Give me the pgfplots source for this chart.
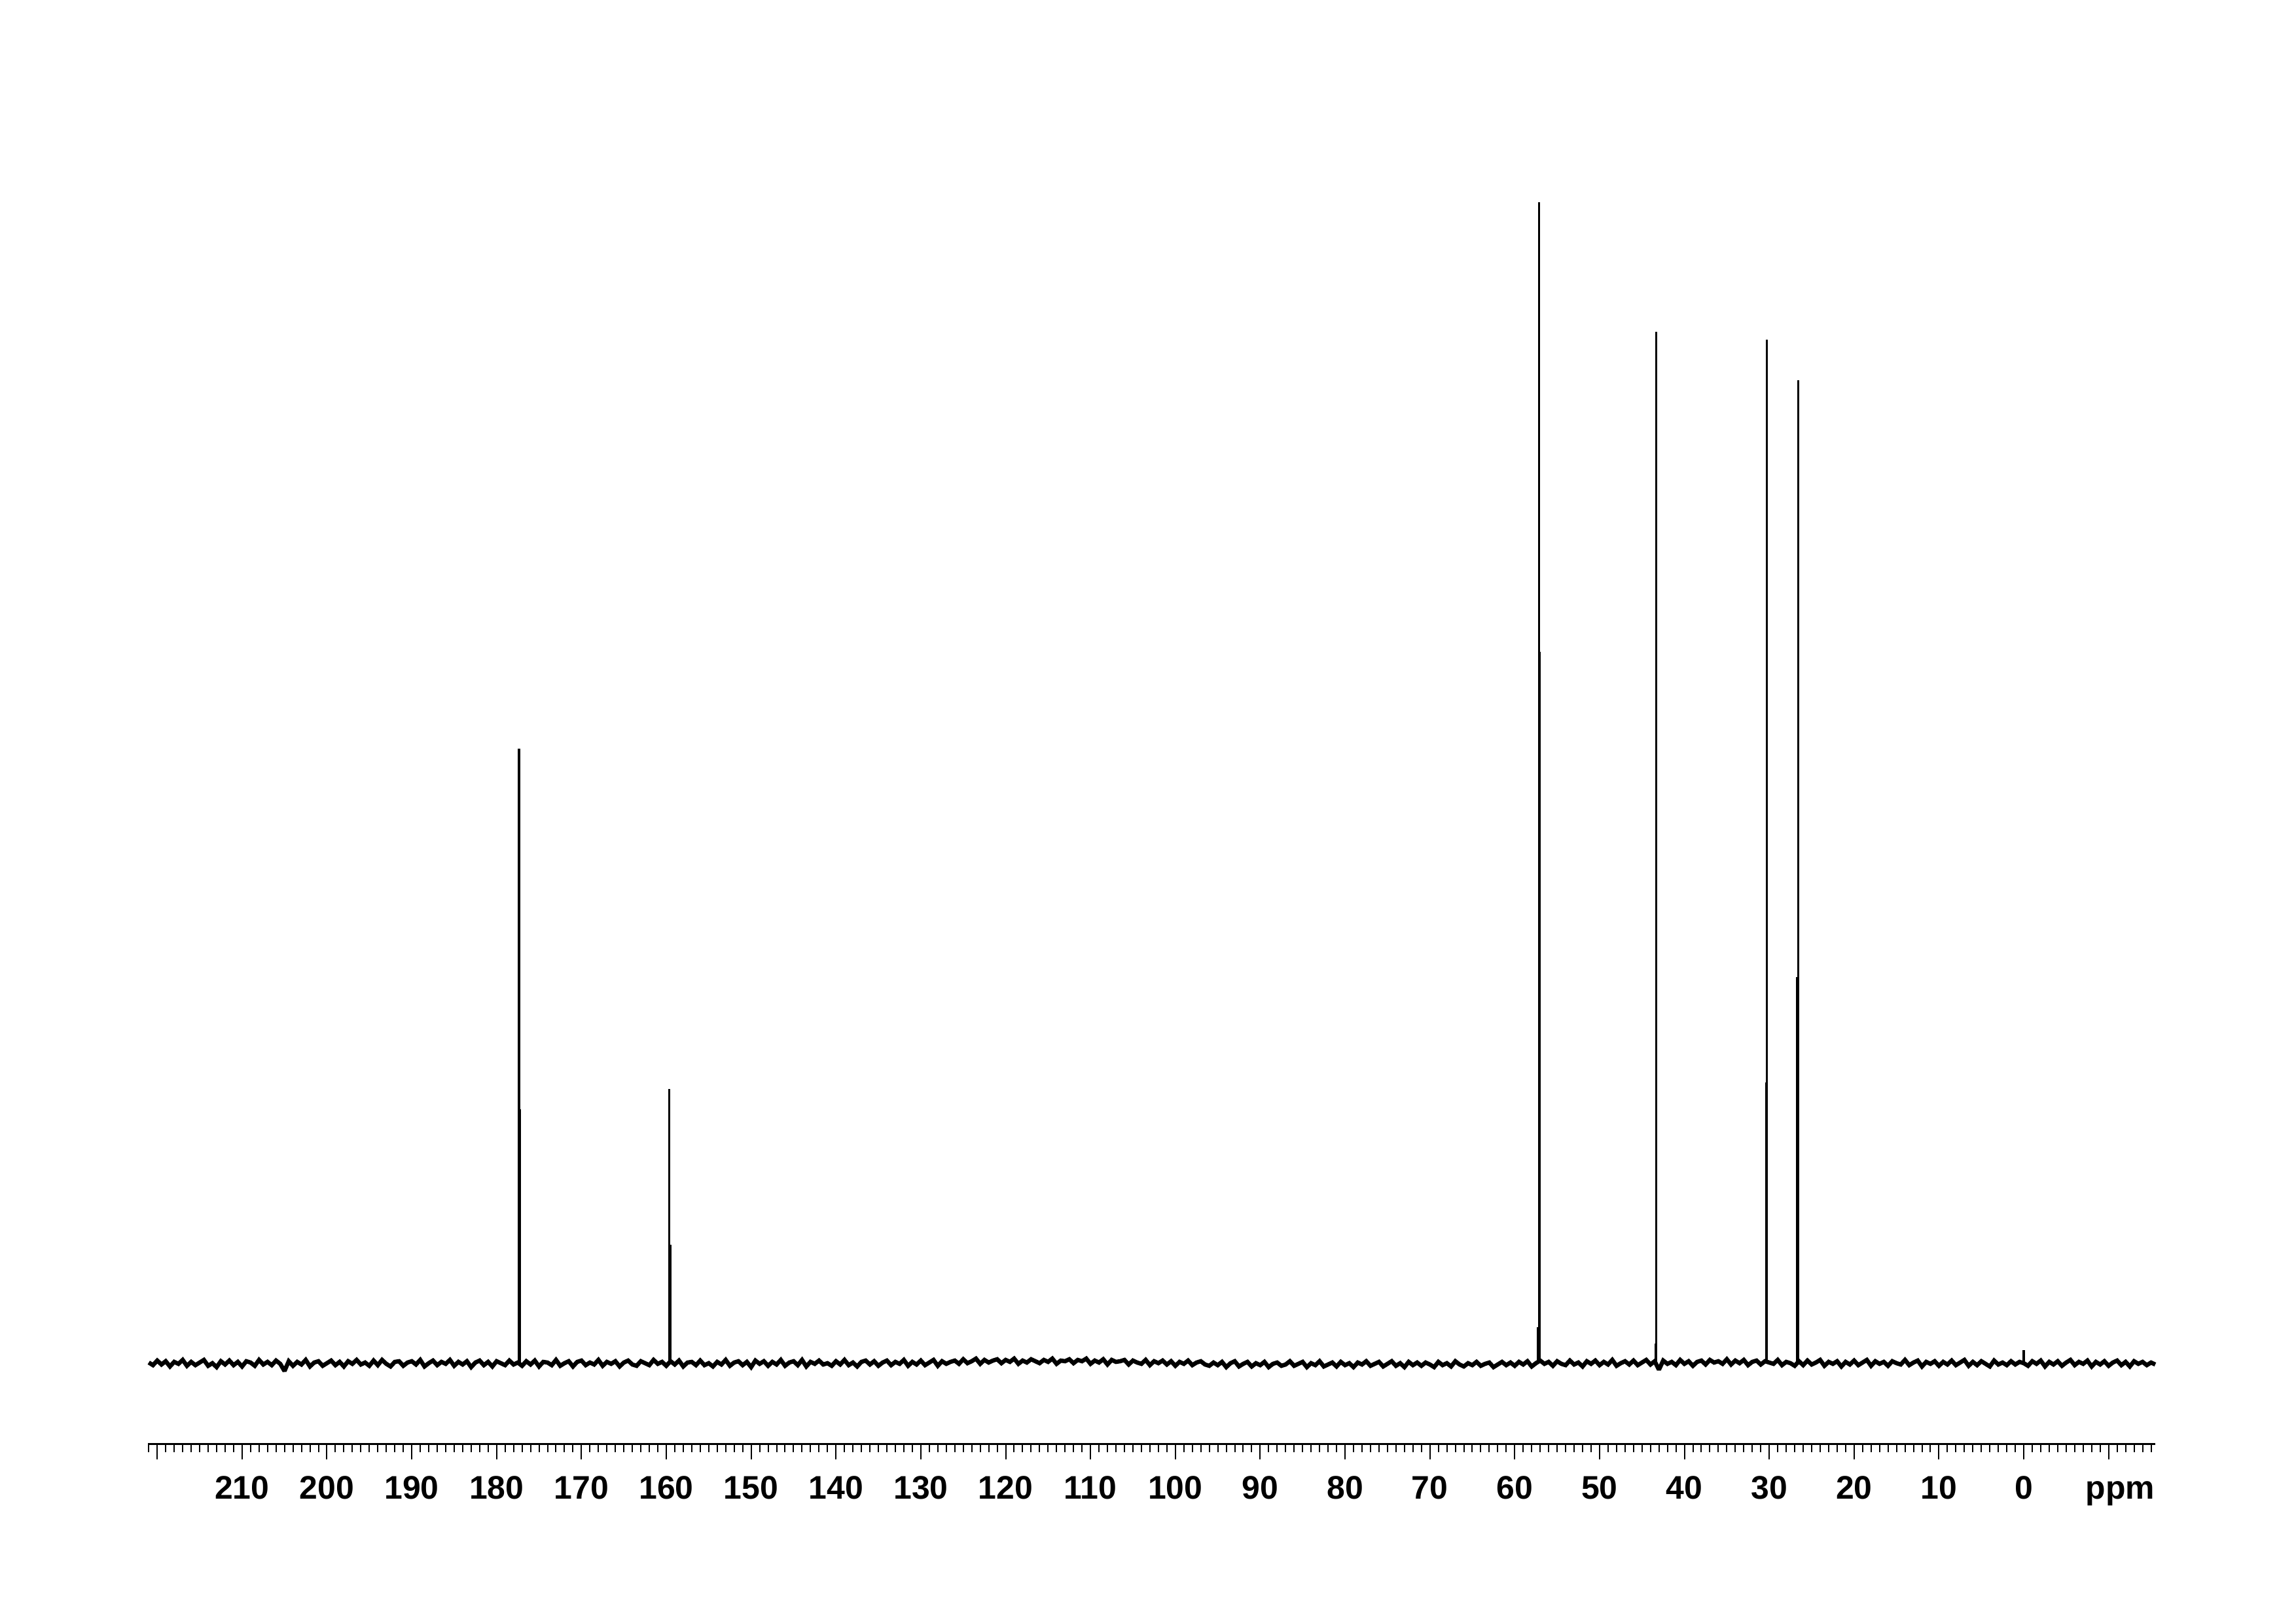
\documentclass[border=0pt]{standalone}
\usepackage{fontspec}
\setmainfont{Liberation Sans}
\usepackage{pgfplots}
\pgfplotsset{compat=1.18}
\begin{document}
\begin{tikzpicture}
\useasboundingbox (0,0) rectangle (350.8mm,247.9mm);
\begin{axis}[
  at={(22.6mm,27.3mm)}, anchor=south west,
  scale only axis, width=306.7mm, height=192.3mm,
  xmin=-15.5, xmax=221.1, ymin=-123, ymax=1800,
  x dir=reverse,
  axis x line=bottom, axis y line=none,
  axis line style={-, line width=0.3mm, black},
  ytick=\empty,
  xtick={-10,0,10,20,30,40,50,60,70,80,90,100,110,120,130,140,150,160,170,180,190,200,210,220},
  xticklabels={,0,10,20,30,40,50,60,70,80,90,100,110,120,130,140,150,160,170,180,190,200,210,},
  minor xtick={-15,-14,...,221},
  tick align=outside,
  major tick length=2.4mm, minor tick length=1.25mm,
  major tick style={line width=0.2mm, black},
  minor tick style={line width=0.2mm, black},
  /pgf/number format/assume math mode=true,
  xticklabel style={font=\bfseries\fontsize{14.2}{14.2}\selectfont, anchor=base, inner sep=0pt, yshift=-6.0mm},
  xlabel={ppm},
  xlabel style={at={(rel axis cs:1,0)}, anchor=base east, inner sep=0pt, yshift=-8.4mm, font=\bfseries\fontsize{14.2}{14.2}\selectfont},
  clip=false,
]
% baseline noise (height in 0.1 mm above baseline)
\addplot[black, line width=0.65mm, line join=miter, miter limit=2] coordinates {
(221,1)(220.5,-3)(220,4)(219.5,-2)(219,3)(218.5,-5)(218,2)(217.5,-1)(217,5)(216.5,-4)
(216,2)(215.5,-3)(215,1)(214.5,5)(214,-4)(213.5,0)(213,-6)(212.5,3)(212,-2)(211.5,4)
(211,-3)(210.5,2)(210,-5)(209.5,3)(209,1)(208.5,-4)(208,5)(207.5,-2)(207,2)(206.5,-3)
(206,4)(205.5,-1)(205,-12)(204.5,3)(204,-4)(203.5,2)(203,-2)(202.5,5)(202,-5)(201.5,1)
(201,3)(200.5,-4)(200,0)(199.5,4)(199,-3)(198.5,2)(198,-5)(197.5,3)(197,-1)(196.5,5)
(196,-2)(195.5,1)(195,-4)(194.5,4)(194,-3)(193.5,5)(193,-1)(192.5,-5)(192,2)(191.5,3)
(191,-4)(190.5,1)(190,3)(189.5,-2)(189,5)(188.5,-5)(188,0)(187.5,4)(187,-3)(186.5,2)
(186,-1)(185.5,5)(185,-4)(184.5,2)(184,-2)(183.5,3)(183,-6)(182.5,1)(182,4)(181.5,-3)
(181,2)(180.5,-5)(180,3)(179.5,0)(179,-3)(178.5,4)(178,-2)(177.5,1)(177,-4)(176.5,3)
(176,-2)(175.5,4)(175,-5)(174.5,2)(174,1)(173.5,-3)(173,5)(172.5,-4)(172,0)(171.5,3)
(171,-5)(170.5,2)(170,4)(169.5,-3)(169,1)(168.5,-2)(168,5)(167.5,-4)(167,2)(166.5,-1)
(166,3)(165.5,-5)(165,1)(164.5,4)(164,-2)(163.5,-4)(163,3)(162.5,0)(162,-3)(161.5,5)
(161,-1)(160.5,2)(160,-4)(159.5,3)(159,-2)(158.5,4)(158,-5)(157.5,1)(157,2)(156.5,-3)
(156,4)(155.5,-3)(155,0)(154.5,-5)(154,2)(153.5,-2)(153,5)(152.5,-4)(152,1)(151.5,3)
(151,-3)(150.5,2)(150,-6)(149.5,4)(149,-1)(148.5,3)(148,-4)(147.5,2)(147,-2)(146.5,5)
(146,-4)(145.5,1)(145,3)(144.5,-3)(144,5)(143.5,-5)(143,2)(142.5,-1)(142,4)(141.5,-2)
(141,0)(140.5,-4)(140,3)(139.5,-2)(139,5)(138.5,-3)(138,1)(137.5,-5)(137,2)(136.5,4)
(136,-2)(135.5,3)(135,-4)(134.5,1)(134,4)(133.5,-3)(133,2)(132.5,-1)(132,5)(131.5,-4)
(131,2)(130.5,-2)(130,4)(129.5,-3)(129,1)(128.5,5)(128,-4)(127.5,3)(127,-1)(126.5,2)
(126,4)(125.5,-1)(125,6)(124.5,0)(124,3)(123.5,7)(123,-1)(122.5,5)(122,1)(121.5,4)
(121,6)(120.5,0)(120,5)(119.5,2)(119,7)(118.5,-1)(118,4)(117.5,1)(117,6)(116.5,3)
(116,0)(115.5,5)(115,2)(114.5,7)(114,-1)(113.5,4)(113,3)(112.5,6)(112,0)(111.5,5)
(111,3)(110.5,7)(110,-1)(109.5,4)(109,1)(108.5,6)(108,-2)(107.5,5)(107,2)(106.5,3)
(106,5)(105.5,-2)(105,4)(104.5,1)(104,-1)(103.5,5)(103,-3)(102.5,3)(102,0)(101.5,4)
(101,-2)(100.5,3)(100,-4)(99.5,2)(99,-1)(98.5,4)(98,-3)(97.5,1)(97,3)(96.5,-2)
(96,-4)(95.5,1)(95,-3)(94.5,2)(94,-6)(93.5,0)(93,3)(92.5,-5)(92,-1)(91.5,2)
(91,-5)(90.5,0)(90,-3)(89.5,2)(89,-6)(88.5,-1)(88,1)(87.5,-4)(87,-2)(86.5,3)
(86,-4)(85.5,-1)(85,2)(84.5,-6)(84,0)(83.5,-3)(83,3)(82.5,-5)(82,-2)(81.5,1)
(81,-5)(80.5,2)(80,-3)(79.5,0)(79,-6)(78.5,1)(78,-2)(77.5,3)(77,-4)(76.5,-1)
(76,2)(75.5,-5)(75,-1)(74.5,3)(74,-4)(73.5,0)(73,-6)(72.5,2)(72,-3)(71.5,1)
(71,-4)(70.5,1)(70,-2)(69.5,-6)(69,2)(68.5,-3)(68,0)(67.5,-5)(67,3)(66.5,-2)
(66,-5)(65.5,0)(65,-3)(64.5,2)(64,-4)(63.5,-1)(63,1)(62.5,-6)(62,-2)(61.5,2)
(61,-3)(60.5,1)(60,-4)(59.5,2)(59,-2)(58.5,3)(58,-5)(57.5,0)(57,4)(56.5,-1)
(56,2)(55.5,-4)(55,3)(54.5,-1)(54,-3)(53.5,4)(53,-2)(52.5,1)(52,-5)(51.5,3)
(51,-1)(50.5,4)(50,-3)(49.5,2)(49,-2)(48.5,5)(48,-4)(47.5,0)(47,3)(46.5,-2)
(46,4)(45.5,-3)(45,1)(44.5,5)(44,-2)(43.5,3)(43,-10)(42.5,4)(42,-1)(41.5,2)
(41,-3)(40.5,5)(40,-1)(39.5,3)(39,-4)(38.5,2)(38,4)(37.5,-2)(37,5)(36.5,1)
(36,3)(35.5,-1)(35,6)(34.5,-2)(34,4)(33.5,0)(33,5)(32.5,-3)(32,2)(31.5,4)
(31,-2)(30.5,3)(30,1)(29.5,-1)(29,5)(28.5,-3)(28,2)(27.5,0)(27,-4)(26.5,3)
(26,-3)(25.5,4)(25,-2)(24.5,1)(24,5)(23.5,-4)(23,2)(22.5,-1)(22,3)(21.5,-5)
(21,2)(20.5,-2)(20,4)(19.5,-3)(19,1)(18.5,5)(18,-4)(17.5,3)(17,-1)(16.5,2)
(16,-4)(15.5,3)(15,0)(14.5,-2)(14,5)(13.5,-3)(13,1)(12.5,4)(12,-5)(11.5,2)
(11,-1)(10.5,3)(10,-4)(9.5,2)(9,-2)(8.5,4)(8,-3)(7.5,1)(7,5)(6.5,-4)
(6,2)(5.5,-3)(5,3)(4.5,-1)(4,-5)(3.5,4)(3,-2)(2.5,1)(2,-3)(1.5,3)
(1,-2)(0.5,2)(0,0)(-0.5,-4)(-1,3)(-1.5,-1)(-2,4)(-2.5,-5)(-3,2)(-3.5,-2)
(-4,3)(-4.5,-4)(-5,1)(-5.5,5)(-6,-3)(-6.5,2)(-7,-1)(-7.5,4)(-8,-5)(-8.5,2)
(-9,-2)(-9.5,3)(-10,-4)(-10.5,1)(-11,4)(-11.5,-3)(-12,2)(-12.5,-5)(-13,3)(-13.5,-1)
(-14,2)(-14.5,-3)(-15,1)(-15.5,-2)
};
% peaks
\addplot[black, line width=0.32mm, ycomb] coordinates {
(177.36,939)(177.24,388)
(159.66,419)(159.54,181)
(57.16,1774)(57.04,1087)(57.28,55)
(43.30,1576)(43.42,30)
(30.27,1564)(30.39,429)
(26.57,1502)(26.69,590)
(0.00,20)
};
\end{axis}
\end{tikzpicture}
\end{document}
